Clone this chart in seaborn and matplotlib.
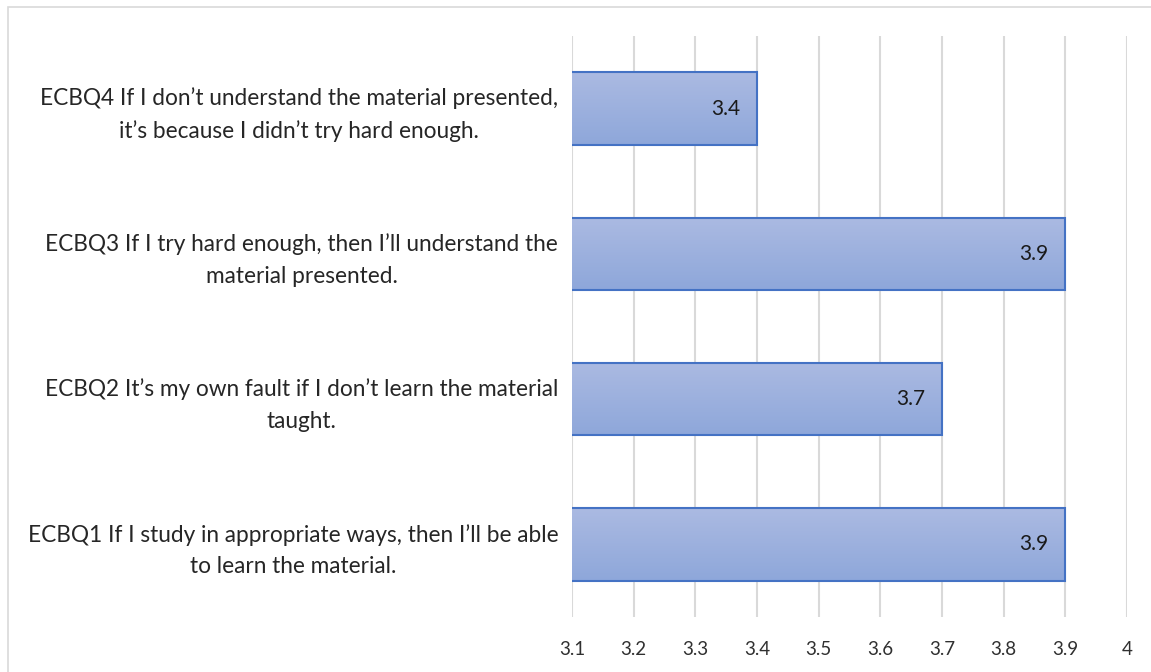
import numpy as np
import pandas as pd
import matplotlib
matplotlib.use("Agg")
import matplotlib.pyplot as plt
from matplotlib.patches import Rectangle
from matplotlib.transforms import ScaledTranslation
import seaborn as sns

# Survey items (top to bottom) and their mean scores
items = [
    "ECBQ4 If I don\u2019t understand the material presented,\nit\u2019s because I didn\u2019t try hard enough.",
    "ECBQ3 If I try hard enough, then I\u2019ll understand the\nmaterial presented.",
    "ECBQ2 It\u2019s my own fault if I don\u2019t learn the material\ntaught.",
    "ECBQ1 If I study in appropriate ways, then I\u2019ll be able\nto learn the material.",
]
means = [3.4, 3.9, 3.7, 3.9]
x_ticks = [3.1, 3.2, 3.3, 3.4, 3.5, 3.6, 3.7, 3.8, 3.9, 4.0]
x_tick_labels = ["3.1", "3.2", "3.3", "3.4", "3.5", "3.6", "3.7", "3.8", "3.9", "4"]
x_min, x_max = 3.1, 4.0

df = pd.DataFrame({"item": items, "mean": means})

sns.set_theme(style="white")
plt.rcParams["font.family"] = ["Lato", "DejaVu Sans"]

fig = plt.figure(figsize=(11.51, 6.72), dpi=100)
ax = fig.add_axes([0.497, 0.0818, 0.482, 0.8646])

sns.barplot(data=df, x="mean", y="item", orient="h", width=0.5,
            color="#9DB0DE", edgecolor="#4472C4", linewidth=1.5, ax=ax, zorder=3)

ax.set_xlim(x_min, x_max)
ax.set_xticks(x_ticks)
ax.set_xticklabels(x_tick_labels)
ax.grid(axis="x", color="#D9D9D9", linewidth=1.5, zorder=0)
ax.set_axisbelow(True)
for s in ax.spines.values():
    s.set_visible(False)
ax.set_xlabel("")
ax.set_ylabel("")
ax.tick_params(axis="x", length=0, pad=17, labelsize=13.5, labelcolor="#303030")
ax.tick_params(axis="y", length=0, pad=10, labelsize=16.3, labelcolor="#262626")
shift_down = ScaledTranslation(0, -6 / 100, fig.dpi_scale_trans)
for lbl in ax.get_yticklabels():
    lbl.set_multialignment("center")
    lbl.set_linespacing(1.62)
    lbl.set_va("center")
    lbl.set_transform(lbl.get_transform() + shift_down)

# Vertical gradient fill clipped to the visible part of each bar
grad = np.linspace(0, 1, 256).reshape(-1, 1)
cmap = matplotlib.colors.LinearSegmentedColormap.from_list(
    "barfill", ["#ABBAE2", "#8EA7DA"])
for patch in ax.patches:
    x0, y0 = patch.get_x(), patch.get_y()
    w, h = patch.get_width(), patch.get_height()
    left = max(x0, x_min)
    im = ax.imshow(grad, cmap=cmap, aspect="auto",
                   extent=[left, x0 + w, y0 + h, y0], origin="upper", zorder=3.5)
    im.set_clip_path(patch)
    patch.set_facecolor("none")
    patch.set_zorder(4)

ax.set_xlim(x_min, x_max)
ax.set_ylim(3.5, -0.5)

# Value labels inside the end of each bar
for i, v in enumerate(means):
    ax.annotate(f"{v:.1f}", xy=(v, i), xytext=(-12, 0), textcoords="offset points",
                ha="right", va="center", fontsize=15, color="#1a1a1a", zorder=5)

# Chart area border
fig.patches.append(Rectangle((8 / 1151, -0.01), 1.0, 1 - 7 / 672 + 0.01,
                             transform=fig.transFigure, fill=False,
                             edgecolor="#D9D9D9", linewidth=1.2))

fig.savefig("out.png", dpi=100)
